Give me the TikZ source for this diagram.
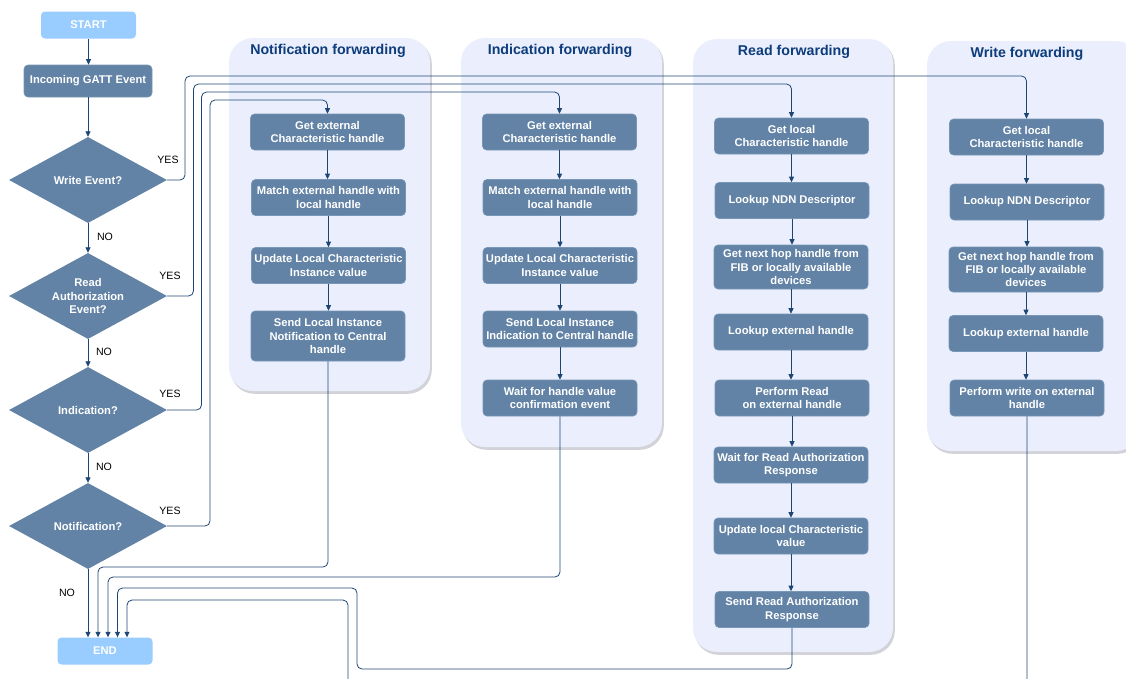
\documentclass[tikz,border=0pt]{standalone}
\usepackage{fontspec}
\setmainfont{Liberation Sans}
\usetikzlibrary{arrows.meta,shapes.geometric}
\definecolor{stepfill}{RGB}{98,131,166}
\definecolor{stepedge}{RGB}{120,150,182}
\definecolor{termfill}{RGB}{153,204,255}
\definecolor{lanefill}{RGB}{235,239,253}
\definecolor{laneshadow}{RGB}{210,210,216}
\definecolor{lanetitle}{RGB}{12,60,123}
\definecolor{flowline}{RGB}{30,70,117}
\begin{document}
\begin{tikzpicture}[x=1pt,y=-1pt,
  stepbox/.style={rectangle, rounded corners=4pt, fill=stepfill, draw=stepedge, line width=0.6pt,
    text=white, font=\bfseries\fontsize{11.2}{13.4}\selectfont, align=center,
    minimum width=154pt, minimum height=36pt, inner sep=1pt},
  termbox/.style={rectangle, rounded corners=4pt, fill=termfill, draw=none,
    text=white, font=\bfseries\fontsize{11.2}{13}\selectfont,
    minimum width=95pt, minimum height=27pt, inner sep=1pt},
  decision/.style={diamond, fill=stepfill, draw=none, text=white, aspect=1.84,
    font=\bfseries\fontsize{11.2}{13.4}\selectfont, align=center,
    minimum width=158pt, minimum height=86pt, inner sep=0pt},
  lane/.style={fill=lanefill, draw=none, rounded corners=24pt},
  laneshade/.style={fill=laneshadow, draw=none, rounded corners=24pt},
  lanehead/.style={text=lanetitle, font=\bfseries\fontsize{14.2}{16}\selectfont},
  answer/.style={text=black, font=\fontsize{10.6}{12}\selectfont},
  arr/.style={draw=flowline, line width=0.8pt, rounded corners=5pt,
    -{Triangle[length=5.5pt,width=5pt]}}
]
\useasboundingbox (0,0) rectangle (1126,678);

% swimlanes
\foreach \xa/\ya/\xb/\yb in {229/38/430/391, 461/38/662/447, 693/39/893/652, 927/41/1140/451}{
  \fill[laneshade] (\xa+1.5,\ya+2) rectangle (\xb+1.8,\yb+2.8);
  \fill[lane] (\xa,\ya) rectangle (\xb,\yb);
}
\node[lanehead] (hn) at (328,51) {Notification forwarding};
\node[lanehead] (hi) at (560,51) {Indication forwarding};
\node[lanehead] (hr) at (794,52) {Read forwarding};
\node[lanehead] (hw) at (1027,54) {Write forwarding};

% main decision chain
\node[termbox] (start) at (88.5,25) {START};
\node[stepbox, minimum width=128pt, minimum height=32pt] (gatt) at (88,81) {Incoming GATT Event};
\node[decision] (d1) at (88,180) {Write Event?};
\node[decision] (d2) at (88,296) {Read\\Authorization\\Event?};
\node[decision] (d3) at (88,410) {Indication?};
\node[decision] (d4) at (88,526) {Notification?};
\node[termbox] (end) at (105,651) {END};

% notification forwarding
\node[stepbox] (n1) at (327.5,132) {Get external\\Characteristic handle};
\node[stepbox] (n2) at (328.5,197.5) {Match external handle with\\local handle};
\node[stepbox] (n3) at (328.5,265.5) {Update Local Characteristic\\Instance value};
\node[stepbox, minimum height=50pt] (n4) at (328,336) {Send Local Instance\\Notification to Central\\handle};

% indication forwarding
\node[stepbox] (i1) at (559.5,132) {Get external\\Characteristic handle};
\node[stepbox] (i2) at (560,197.5) {Match external handle with\\local handle};
\node[stepbox] (i3) at (560,265.5) {Update Local Characteristic\\Instance value};
\node[stepbox] (i4) at (560,329) {Send Local Instance\\Indication to Central handle};
\node[stepbox] (i5) at (560,398) {Wait for handle value\\confirmation event};

% read forwarding
\node[stepbox] (r1) at (791.5,136) {Get local\\Characteristic handle};
\node[stepbox] (r2) at (792,200.5) {Lookup NDN Descriptor};
\node[stepbox, minimum height=44pt] (r3) at (791,267) {Get next hop handle from\\FIB or locally available\\devices};
\node[stepbox] (r4) at (791,332) {Lookup external handle};
\node[stepbox] (r5) at (792,398) {Perform Read\\on external handle};
\node[stepbox] (r6) at (791,465) {Wait for Read Authorization\\Response};
\node[stepbox] (r7) at (791,536) {Update local Characteristic\\value};
\node[stepbox] (r8) at (792,609.5) {Send Read Authorization\\Response};

% write forwarding
\node[stepbox] (w1) at (1026.5,137) {Get local\\Characteristic handle};
\node[stepbox] (w2) at (1027,202) {Lookup NDN Descriptor};
\node[stepbox, minimum height=45pt] (w3) at (1026,269.5) {Get next hop handle from\\FIB or locally available\\devices};
\node[stepbox] (w4) at (1026,333.5) {Lookup external handle};
\node[stepbox] (w5) at (1027,398) {Perform write on external\\handle};

% vertical flow
\foreach \a/\b in {start/gatt, gatt/d1, d1/d2, d2/d3, d3/d4,
                   n1/n2, n2/n3, n3/n4,
                   i1/i2, i2/i3, i3/i4, i4/i5,
                   r1/r2, r2/r3, r3/r4, r4/r5, r5/r6, r6/r7, r7/r8,
                   w1/w2, w2/w3, w3/w4, w4/w5}{
  \draw[arr] (\a.south) -- (\a.south |- \b.north);
}
\draw[arr] (d4.south) -- (d4.south |- end.north);

% YES branches into the lanes
\coordinate (t1) at (185,76);
\coordinate (t2) at (193.5,84);
\coordinate (t3) at (201.5,92);
\coordinate (t4) at (210,100);
\draw[arr] (d1.east) -| (t1) -| (w1.north);
\draw[arr] (d2.east) -| (t2) -| (r1.north);
\draw[arr] (d3.east) -| (t3) -| (i1.north);
\draw[arr] (d4.east) -| (t4) -| (n1.north);

% returns to END
\coordinate (b1) at (98,567);
\coordinate (b2) at (108,577);
\coordinate (b3) at (117.5,588);
\coordinate (b4) at (127,600);
\coordinate (rr) at (357,669);
\coordinate (ww) at (348,700);
\draw[arr] (n4.south) |- (b1) -- (b1 |- end.north);
\draw[arr] (i5.south) |- (b2) -- (b2 |- end.north);
\draw[arr] (r8.south) |- (rr) |- (b3) -- (b3 |- end.north);
\draw[arr] (w5.south) |- (ww) |- (b4) -- (b4 |- end.north);

% branch labels
\node[answer] (y1) at (168,160) {YES};
\node[answer] (y2) at (170,276) {YES};
\node[answer] (y3) at (170,394) {YES};
\node[answer] (y4) at (170,511) {YES};
\node[answer] (o1) at (105,237) {NO};
\node[answer] (o2) at (104,352) {NO};
\node[answer] (o3) at (104,467) {NO};
\node[answer] (o4) at (67,593) {NO};
\end{tikzpicture}
\end{document}
